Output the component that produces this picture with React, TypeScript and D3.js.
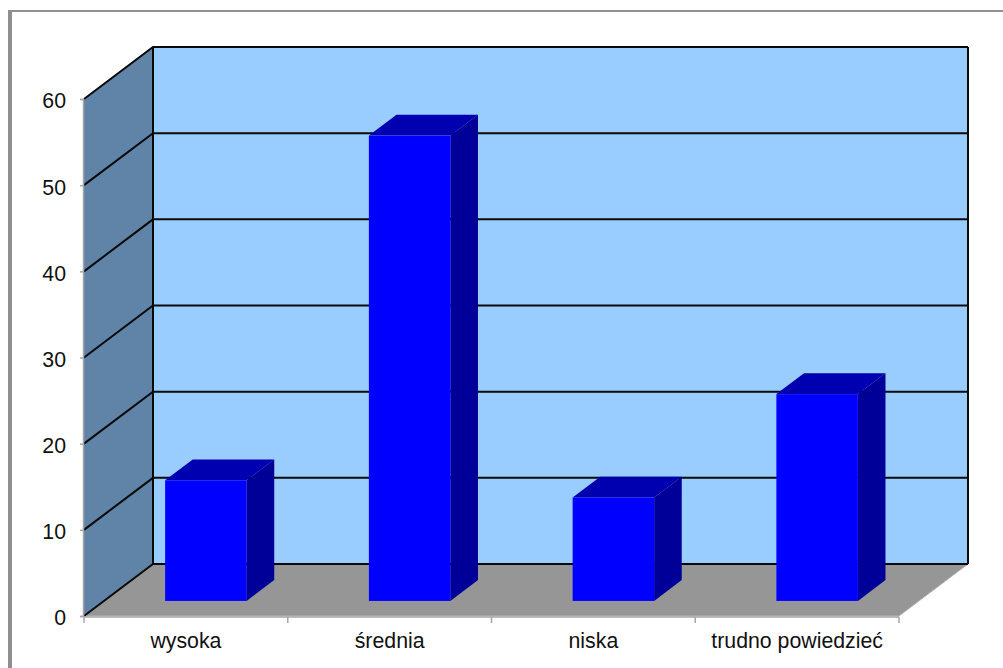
import React, { useEffect, useRef } from "react";
import * as d3 from "d3";

const categories = ["wysoka", "średnia", "niska", "trudno powiedzieć"];
const values = [14, 54, 12, 24];
const yTicks = [0, 10, 20, 30, 40, 50, 60];

const width = 1003;
const height = 668;

// front plane of the 3d box
const left = 84;
const right = 899;
const bottom = 616;
const top = 99;
// how far the back wall is shifted from the front plane
const depthX = 69;
const depthY = 52;
// where a bar sits inside the box depth
const barStart = 0.29;
const barDepth = 0.4;

const font = "'Liberation Sans', Arial, sans-serif";

export default function App() {
  const svgRef = useRef(null);

  useEffect(() => {
    const svg = d3.select(svgRef.current);
    svg.selectAll("*").remove();

    const x = d3
      .scaleBand()
      .domain(categories)
      .range([left, right])
      .paddingInner(0.6)
      .paddingOuter(0.3);
    const y = d3.scaleLinear().domain([0, 60]).range([bottom, top]);
    const poly = (pts) => d3.line()(pts) + "Z";

    // outer frame, only top and left are visible
    svg
      .append("rect")
      .attr("x", 8)
      .attr("y", 10)
      .attr("width", 4)
      .attr("height", height - 10)
      .attr("fill", "#8f8f8f");
    svg
      .append("rect")
      .attr("x", 8)
      .attr("y", 10)
      .attr("width", width - 8)
      .attr("height", 2)
      .attr("fill", "#8f8f8f");

    // floor
    svg
      .append("path")
      .attr(
        "d",
        poly([
          [left, bottom],
          [left + depthX, bottom - depthY],
          [right + depthX, bottom - depthY],
          [right, bottom],
        ]),
      )
      .attr("fill", "#969696")
      .attr("stroke", "#b4b4b4")
      .attr("stroke-width", 1);

    // side wall
    svg
      .append("path")
      .attr(
        "d",
        poly([
          [left, y(0)],
          [left + depthX, y(0) - depthY],
          [left + depthX, y(60) - depthY],
          [left, y(60)],
        ]),
      )
      .attr("fill", "#6083a8");

    // back wall
    svg
      .append("rect")
      .attr("x", left + depthX)
      .attr("y", y(60) - depthY)
      .attr("width", right - left)
      .attr("height", y(0) - y(60))
      .attr("fill", "#99ccff");

    // grid lines run along the side wall and then the back wall
    svg
      .append("g")
      .selectAll("path")
      .data(yTicks)
      .join("path")
      .attr("d", (d) =>
        d3.line()([
          [left, y(d)],
          [left + depthX, y(d) - depthY],
          [right + depthX, y(d) - depthY],
        ]),
      )
      .attr("fill", "none")
      .attr("stroke", "#0a0a0a")
      .attr("stroke-width", 2);

    svg
      .append("path")
      .attr(
        "d",
        `M${left + depthX},${y(60) - depthY}V${y(0) - depthY}M${right + depthX},${y(60) - depthY}V${y(0) - depthY}`,
      )
      .attr("fill", "none")
      .attr("stroke", "#0a0a0a")
      .attr("stroke-width", 2);

    // bars
    const bars = svg
      .append("g")
      .selectAll("g")
      .data(categories.map((c, i) => ({ c, v: values[i] })))
      .join("g");

    const ox = depthX * barStart;
    const oy = depthY * barStart;
    const dx = depthX * barDepth;
    const dy = depthY * barDepth;

    bars
      .append("path")
      .attr("d", (d) => {
        const x0 = x(d.c) + ox;
        const x1 = x0 + x.bandwidth();
        const yt = y(d.v) - oy;
        return poly([
          [x0, yt],
          [x0 + dx, yt - dy],
          [x1 + dx, yt - dy],
          [x1, yt],
        ]);
      })
      .attr("fill", "#0000b0");

    bars
      .append("path")
      .attr("d", (d) => {
        const x1 = x(d.c) + ox + x.bandwidth();
        const yt = y(d.v) - oy;
        const yb = y(0) - oy;
        return poly([
          [x1, yt],
          [x1 + dx, yt - dy],
          [x1 + dx, yb - dy],
          [x1, yb],
        ]);
      })
      .attr("fill", "#000099");

    bars
      .append("rect")
      .attr("x", (d) => x(d.c) + ox)
      .attr("y", (d) => y(d.v) - oy)
      .attr("width", x.bandwidth())
      .attr("height", (d) => y(0) - y(d.v))
      .attr("fill", "#0000ff");

    // axes
    const yAxis = svg
      .append("g")
      .attr("transform", `translate(${left - 1},0)`)
      .call(d3.axisLeft(y).tickValues(yTicks).tickSize(3).tickPadding(14));
    const xAxis = svg
      .append("g")
      .attr("transform", `translate(0,${bottom + 1})`)
      .call(d3.axisBottom(x).tickSize(0).tickPadding(16));

    // ticks between the categories, not under them
    xAxis.select(".domain").remove();
    svg
      .append("path")
      .attr(
        "d",
        `M${left},${bottom + 1}H${right}` +
          d3
            .range(categories.length + 1)
            .map((i) => `M${left + x.step() * i},${bottom + 1}v6`)
            .join(""),
      )
      .attr("fill", "none")
      .attr("stroke", "#a6a6a6")
      .attr("stroke-width", 1.5);

    yAxis.selectAll("line, path").attr("stroke", "#a6a6a6").attr("stroke-width", 1.5);
    svg
      .selectAll(".tick text")
      .attr("fill", "#111")
      .style("font-family", font)
      .style("font-size", "21.3px");
    yAxis.selectAll("text").attr("dy", "0.42em");
  }, []);

  return (
    <svg
      ref={svgRef}
      width={width}
      height={height}
      style={{ position: "absolute", left: 0, top: 0, display: "block", background: "#fff" }}
    />
  );
}
